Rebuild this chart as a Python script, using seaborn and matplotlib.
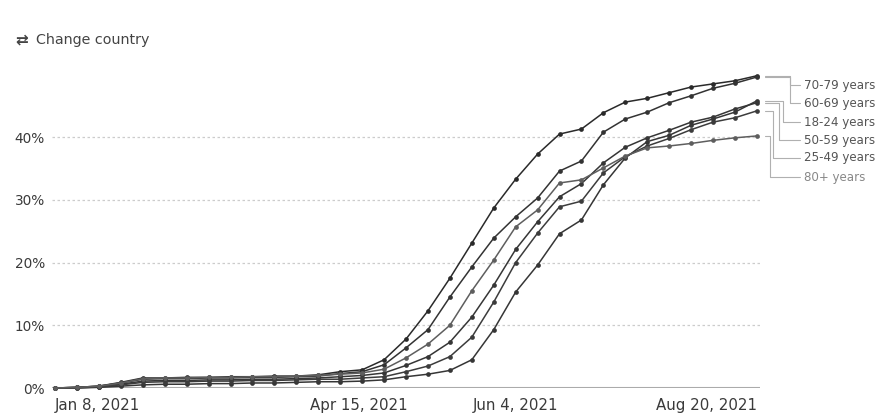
import matplotlib
matplotlib.use("Agg")
import matplotlib.pyplot as plt
import matplotlib.dates as mdates
import seaborn as sns
import pandas as pd
import numpy as np
from matplotlib.lines import Line2D

# ---------------- data ----------------
start_date = "2021-01-08"
n_weeks = 33
age_groups = ["70-79 years", "60-69 years", "18-24 years", "50-59 years", "25-49 years", "80+ years"]

v_70_79 = [0, 0.1, 0.3, 0.9, 1.6, 1.6, 1.7, 1.7, 1.8, 1.8, 1.9, 1.9, 2.1, 2.6, 2.9, 4.5, 7.8, 12.3,
           17.5, 23.1, 28.7, 33.3, 37.3, 40.5, 41.3, 43.9, 45.6, 46.2, 47.1, 48.0, 48.5, 49.0, 49.8]
v_60_69 = [0, 0.1, 0.3, 0.8, 1.4, 1.5, 1.5, 1.6, 1.6, 1.7, 1.7, 1.8, 1.9, 2.3, 2.6, 3.7, 6.4, 9.3,
           14.5, 19.3, 23.9, 27.3, 30.3, 34.6, 36.2, 40.8, 42.9, 44.0, 45.5, 46.6, 47.8, 48.6, 49.6]
v_80_plus = [0, 0.1, 0.3, 0.8, 1.5, 1.6, 1.6, 1.7, 1.7, 1.8, 1.8, 1.9, 2.0, 2.2, 2.4, 3.0, 4.8, 7.0,
             10.0, 15.5, 20.4, 25.7, 28.4, 32.7, 33.2, 35.1, 37.0, 38.3, 38.6, 39.0, 39.5, 39.9, 40.2]
v_50_59 = [0, 0.1, 0.2, 0.6, 1.1, 1.2, 1.2, 1.3, 1.3, 1.4, 1.4, 1.5, 1.6, 1.8, 2.0, 2.4, 3.6, 5.0,
           7.3, 11.3, 16.4, 22.1, 26.5, 30.5, 32.6, 35.9, 38.4, 39.9, 41.1, 42.4, 43.2, 44.5, 45.5]
v_25_49 = [0, 0.0, 0.2, 0.5, 0.9, 1.0, 1.0, 1.1, 1.1, 1.2, 1.2, 1.3, 1.4, 1.4, 1.6, 1.8, 2.6, 3.5,
           5.0, 8.1, 13.7, 20.0, 24.7, 28.9, 29.8, 34.3, 36.9, 38.6, 39.8, 41.2, 42.4, 43.1, 44.2]
v_18_24 = [0, 0.0, 0.1, 0.3, 0.5, 0.6, 0.6, 0.7, 0.7, 0.8, 0.8, 0.9, 1.0, 1.0, 1.1, 1.3, 1.8, 2.2,
           2.8, 4.5, 9.3, 15.3, 19.6, 24.6, 26.8, 32.4, 36.7, 39.3, 40.3, 41.9, 42.9, 44.0, 45.8]

y_ticks = [0, 10, 20, 30, 40]
y_tick_labels = ["0%", "10%", "20%", "30%", "40%"]
x_tick_dates = ["2021-01-08", "2021-04-15", "2021-06-04", "2021-08-20"]
x_tick_labels = ["Jan 8, 2021", "Apr 15, 2021", "Jun 4, 2021", "Aug 20, 2021"]
label_ypix = [85, 103, 122, 140, 158, 177]
leader_xpix = [790, 790, 783, 779, 773, 770]

series = {
    "70-79 years": v_70_79,
    "60-69 years": v_60_69,
    "18-24 years": v_18_24,
    "50-59 years": v_50_59,
    "25-49 years": v_25_49,
    "80+ years": v_80_plus,
}

dates = pd.date_range(start_date, periods=n_weeks, freq="7D")
df = pd.concat(
    [pd.DataFrame({"date": dates, "value": series[g], "group": g}) for g in age_groups],
    ignore_index=True,
)

# ---------------- style ----------------
sns.set_theme(style="white")
plt.rcParams["font.family"] = ["DejaVu Sans"]

W, H = 890, 419
fig = plt.figure(figsize=(W / 100, H / 100), dpi=100)

ax_left, ax_right = 52, 760
ax_bottom_px, ax_top_px = 388, 70
ax = fig.add_axes([ax_left / W, (H - ax_bottom_px) / H,
                   (ax_right - ax_left) / W, (ax_bottom_px - ax_top_px) / H])

palette = {
    "70-79 years": "#2a2a2a",
    "60-69 years": "#333333",
    "18-24 years": "#363636",
    "50-59 years": "#363636",
    "25-49 years": "#3c3c3c",
    "80+ years": "#5e5e5e",
}

sns.lineplot(data=df, x="date", y="value", hue="group", hue_order=age_groups,
             palette=palette, ax=ax, legend=False, marker="o", markersize=3.4,
             markeredgewidth=0, linewidth=1.1, clip_on=False)

x0 = pd.Timestamp(start_date) - pd.Timedelta(days=1)
x1 = dates[-1] + pd.Timedelta(days=1)
ax.set_xlim(x0, x1)
ax.set_ylim(0, (ax_bottom_px - ax_top_px) / 62.7 * 10)

# grid lines
for t in y_ticks[1:]:
    ax.axhline(t, color="#cccccc", lw=0.9, ls=(0, (2, 2)), zorder=0)
ax.axhline(0, color="#ababab", lw=1.5, zorder=0.5)

for s in ["top", "right", "left", "bottom"]:
    ax.spines[s].set_visible(False)

ax.set_yticks(y_ticks)
ax.set_yticklabels(y_tick_labels)
ax.tick_params(axis="y", length=0, pad=5, labelsize=9.8, labelcolor="#3a3a3a")

xt = [pd.Timestamp(d) for d in x_tick_dates]
ax.set_xticks(xt)
ax.set_xticklabels(x_tick_labels)
ax.tick_params(axis="x", length=4, width=1, color="#ababab", pad=3, labelsize=10.8,
               labelcolor="#3a3a3a", direction="out")
xl = ax.get_xticklabels()
xl[0].set_ha("left")
xl[-1].set_ha("right")
ax.set_xlabel("")
ax.set_ylabel("")

# leader lines + labels (figure pixel coords, from data end points)
fig.canvas.draw()
for g, ly, xv in zip(age_groups, label_ypix, leader_xpix):
    ex, ey = ax.transData.transform((mdates.date2num(dates[-1]), series[g][-1]))
    ey_top = H - ey  # pixel from top
    pts_x = [ex + 8, xv, xv, 800]
    pts_y = [ey_top, ey_top, ly, ly]
    fx = [p / W for p in pts_x]
    fy = [(H - p) / H for p in pts_y]
    fig.add_artist(Line2D(fx, fy, transform=fig.transFigure, color="#b0b0b0", lw=0.8))
    fig.text(804 / W, (H - ly) / H, g, ha="left", va="center", fontsize=8.6,
             color="#888888" if g == "80+ years" else "#555555")

fig.text(15 / W, (H - 40) / H, "⇄", ha="left", va="center",
         fontsize=11, color="#444444", fontweight="bold")
fig.text(36 / W, (H - 40) / H, "Change country", ha="left", va="center",
         fontsize=10.3, color="#444444")

fig.savefig("out.png", dpi=100)
